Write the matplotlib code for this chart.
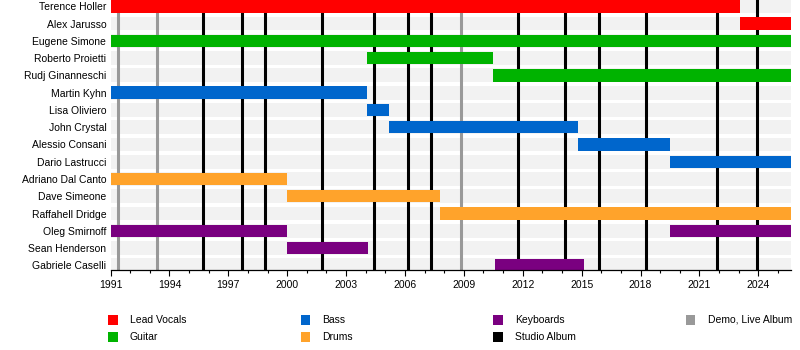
import matplotlib
matplotlib.use("Agg")
import matplotlib.pyplot as plt

plt.rcParams['font.family'] = ['Liberation Sans', 'DejaVu Sans']

START = 1991.0
END = 2025.65

members = [
    "Terence Holler", "Alex Jarusso", "Eugene Simone", "Roberto Proietti",
    "Rudj Ginanneschi", "Martin Kyhn", "Lisa Oliviero", "John Crystal",
    "Alessio Consani", "Dario Lastrucci", "Adriano Dal Canto", "Dave Simeone",
    "Raffahell Dridge", "Oleg Smirnoff", "Sean Henderson", "Gabriele Caselli",
]

# membership periods: member, role, from, to
period_member = ["Terence Holler", "Alex Jarusso", "Eugene Simone", "Roberto Proietti",
                 "Rudj Ginanneschi", "Martin Kyhn", "Lisa Oliviero", "John Crystal",
                 "Alessio Consani", "Dario Lastrucci", "Adriano Dal Canto", "Dave Simeone",
                 "Raffahell Dridge", "Oleg Smirnoff", "Oleg Smirnoff", "Sean Henderson",
                 "Gabriele Caselli"]
period_role = ["Lead Vocals", "Lead Vocals", "Guitar", "Guitar",
               "Guitar", "Bass", "Bass", "Bass",
               "Bass", "Bass", "Drums", "Drums",
               "Drums", "Keyboards", "Keyboards", "Keyboards",
               "Keyboards"]
period_start = [1991.0, 2023.07, 1991.0, 2004.05,
                2010.47, 1991.0, 2004.05, 2005.2,
                2014.8, 2019.5, 1991.0, 2000.0,
                2007.8, 1991.0, 2019.5, 2000.0,
                2010.57]
period_end = [2023.07, END, END, 2010.47,
              END, 2004.05, 2005.2, 2014.8,
              2019.5, END, 2000.0, 2007.8,
              END, 2000.0, END, 2004.1,
              2015.1]

studio_albums = [1995.73, 1997.72, 1998.85, 2001.78, 2004.41, 2006.16, 2007.34,
                 2011.78, 2014.15, 2015.86, 2018.26, 2021.91, 2023.92]
demo_live = [1991.40, 1993.37, 2008.85]

role_colors = {
    "Lead Vocals": "#ff0000",
    "Guitar": "#00b300",
    "Bass": "#0066cc",
    "Drums": "#ffa32b",
    "Keyboards": "#7a0080",
}
studio_color = "#000000"
demo_color = "#999999"

FS = 7.5

fig = plt.figure(figsize=(8, 3.5), dpi=100)
ax = fig.add_axes([110.5 / 800, 80 / 350, (790.7 - 110.5) / 800, 270 / 350])

n = len(members)
row = {m: i for i, m in enumerate(members)}

# background row stripes
for i in range(n):
    ax.axhspan(i - 0.40, i + 0.40, color="#f2f2f2", lw=0, zorder=0)

for x in studio_albums:
    ax.axvline(x, color=studio_color, lw=2.2, zorder=1)
for x in demo_live:
    ax.axvline(x, color=demo_color, lw=2.2, zorder=1)

for m, r, s, e in zip(period_member, period_role, period_start, period_end):
    ax.barh(row[m], e - s, left=s, height=0.72, color=role_colors[r], lw=0, zorder=2)

ax.set_xlim(START, END)
ax.set_ylim(15.27, -0.365)
ax.set_yticks(range(n))
ax.set_yticklabels(members, fontsize=FS)
ax.tick_params(axis="y", length=0, pad=3)

major = list(range(1991, 2025, 3))
ax.set_xticks(major)
ax.set_xticklabels([str(y) for y in major], fontsize=FS)
ax.set_xticks(range(1991, 2026), minor=True)
ax.tick_params(axis="x", which="major", length=4, width=0.8, pad=3)
ax.tick_params(axis="x", which="minor", length=2.5, width=0.8)

for side in ("left", "right", "top"):
    ax.spines[side].set_visible(False)
ax.spines["bottom"].set_linewidth(0.9)
ax.spines["bottom"].set_zorder(3)

# legend
legend_items = [
    ("Lead Vocals", role_colors["Lead Vocals"], 0, 0),
    ("Guitar", role_colors["Guitar"], 0, 1),
    ("Bass", role_colors["Bass"], 1, 0),
    ("Drums", role_colors["Drums"], 1, 1),
    ("Keyboards", role_colors["Keyboards"], 2, 0),
    ("Studio Album", studio_color, 2, 1),
    ("Demo, Live Album", demo_color, 3, 0),
]
col_x = [108, 300.5, 493, 685.5]
row_y = [320, 336.5]
for label, color, c, r in legend_items:
    x0 = col_x[c] / 800
    y0 = 1 - row_y[r] / 350
    fig.patches.append(plt.Rectangle((x0, y0 - 5 / 350), 9.5 / 800, 10 / 350,
                                     transform=fig.transFigure, color=color, lw=0))
    fig.text(x0 + 22 / 800, y0, label, fontsize=FS, va="center", ha="left")

fig.savefig("out.png", dpi=100)
